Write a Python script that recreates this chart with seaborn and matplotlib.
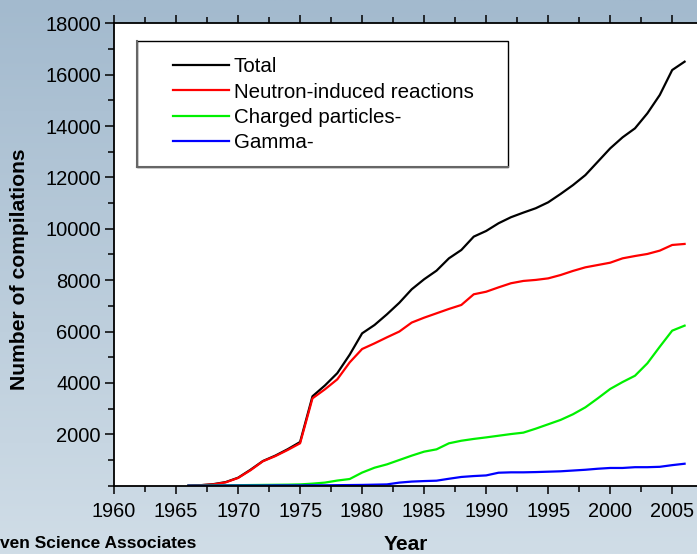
import numpy as np
import pandas as pd
import matplotlib
matplotlib.use("Agg")
import matplotlib.pyplot as plt
import seaborn as sns
from matplotlib.ticker import MultipleLocator, FixedLocator
from matplotlib.patches import Rectangle
from matplotlib.lines import Line2D

years = list(range(1966, 2007))
total = [0, 20, 60, 140, 310, 620, 960, 1170, 1420, 1700, 3480, 3900, 4380, 5100,
         5930, 6255, 6670, 7120, 7645, 8035, 8370, 8850, 9175, 9695, 9915, 10215,
         10450, 10630, 10800, 11030, 11355, 11700, 12090, 12610, 13130, 13560,
         13910, 14495, 15210, 16180, 16505]
neutron = [0, 20, 50, 130, 300, 600, 950, 1150, 1390, 1650, 3400, 3750, 4140, 4800,
           5320, 5540, 5775, 6000, 6350, 6540, 6710, 6880, 7035, 7450, 7550, 7720,
           7880, 7970, 8010, 8070, 8200, 8360, 8500, 8590, 8680, 8850, 8940, 9020,
           9150, 9370, 9410]
charged = [0, 5, 10, 15, 20, 25, 30, 35, 40, 50, 80, 120, 200, 260, 510, 700, 830,
           1000, 1170, 1325, 1415, 1650, 1750, 1820, 1880, 1945, 2010, 2065, 2220,
           2390, 2560, 2780, 3050, 3400, 3765, 4035, 4280, 4765, 5410, 6035, 6230]
gamma = [0, 0, 0, 5, 5, 5, 5, 10, 10, 10, 15, 15, 20, 25, 30, 40, 50, 120, 160, 180,
         195, 270, 340, 375, 400, 505, 520, 520, 530, 545, 560, 590, 620, 660, 690,
         690, 720, 720, 735, 800, 855]

series_names = ["Total", "Neutron-induced reactions", "Charged particles-", "Gamma-"]
series_colors = ["#000000", "#ff0000", "#00f000", "#0000ff"]
x_ticks = [1960, 1965, 1970, 1975, 1980, 1985, 1990, 1995, 2000, 2005]
y_ticks = [2000, 4000, 6000, 8000, 10000, 12000, 14000, 16000, 18000]

df = pd.concat([
    pd.DataFrame({"Year": years, "Count": vals, "Series": name})
    for name, vals in zip(series_names, [total, neutron, charged, gamma])
], ignore_index=True)

plt.rcParams['font.family'] = ['Liberation Sans', 'DejaVu Sans']

fig = plt.figure(figsize=(6.97, 5.54), dpi=100)

# background sky gradient
bg = fig.add_axes([0, 0, 1, 1], zorder=-10)
grad = np.linspace(0, 1, 256)[:, None]
top = np.array([163, 186, 206]) / 255.0
bot = np.array([208, 221, 231]) / 255.0
img = top[None, None, :] * (1 - grad[:, :, None]) + bot[None, None, :] * grad[:, :, None]
img = np.repeat(img, 4, axis=1)
bg.imshow(img, aspect='auto', extent=[0, 1, 0, 1])
bg.axis('off')

ax = fig.add_axes([0.1636, 0.1233, 0.8364, 0.8347])
ax.set_facecolor("white")

sns.lineplot(data=df, x="Year", y="Count", hue="Series", hue_order=series_names,
             palette=series_colors, linewidth=1.6, legend=False, ax=ax)

ax.set_xlim(1960, 2007)
ax.set_ylim(0, 18000)
ax.xaxis.set_major_locator(FixedLocator(x_ticks))
ax.xaxis.set_minor_locator(MultipleLocator(2.5))
ax.yaxis.set_major_locator(FixedLocator(y_ticks))
ax.yaxis.set_minor_locator(MultipleLocator(1000))
ax.set_xticklabels([str(v) for v in x_ticks])
ax.set_yticklabels([str(v) for v in y_ticks])

ax.tick_params(axis='x', which='both', direction='out', top=True, bottom=True,
               labeltop=False, labelsize=14.3, width=1.1, pad=6)
ax.tick_params(axis='x', which='major', length=6)
ax.tick_params(axis='x', which='minor', length=4)
ax.tick_params(axis='y', which='both', direction='out', left=True, right=False,
               labelsize=14.5, width=1.1, pad=3)
ax.tick_params(axis='y', which='major', length=6.5)
ax.tick_params(axis='y', which='minor', length=4.5)

for s in ['left', 'bottom', 'top']:
    ax.spines[s].set_linewidth(1.3)
    ax.spines[s].set_color('black')
ax.spines['right'].set_visible(False)

ax.set_xlabel("")
ax.set_ylabel("")
fig.text(20 / 697, 1 - 269 / 554, "Number of compilations", rotation=90,
         ha='center', va='center', fontsize=15.2, fontweight='bold')
fig.text(406 / 697, 1 - 545 / 554, "Year", ha='center', va='center',
         fontsize=15, fontweight='bold')
fig.text(0.0, 1 - 544 / 554, "ven Science Associates", ha='left', va='center',
         fontsize=12.5, fontweight='bold')

# legend box
x0 = (137 - 114) / 583.0
x1 = (508 - 114) / 583.0
y1 = (485.7 - 41) / 462.4
y0 = (485.7 - 167) / 462.4
ax.add_patch(Rectangle((x0, y0), x1 - x0, y1 - y0, transform=ax.transAxes,
                       facecolor='white', edgecolor='black', linewidth=1.0, zorder=5))
ax.plot([x0, x0], [y0, y1], transform=ax.transAxes, color='#666666', lw=1.5, zorder=6)
ax.plot([x0, x1], [y0, y0], transform=ax.transAxes, color='#666666', lw=1.5, zorder=6)

handles = [Line2D([0], [0], color=c, lw=1.6) for c in series_colors]
leg = ax.legend(handles, series_names, loc='upper left',
                bbox_to_anchor=((173 - 114) / 583.0 + 0.0, (485.7 - 57.5) / 462.4),
                frameon=False, fontsize=14.8, handlelength=2.7, handletextpad=0.25,
                labelspacing=0.3, borderpad=0.0, borderaxespad=0.0)
leg.set_zorder(7)

fig.savefig("out.png", dpi=100)
